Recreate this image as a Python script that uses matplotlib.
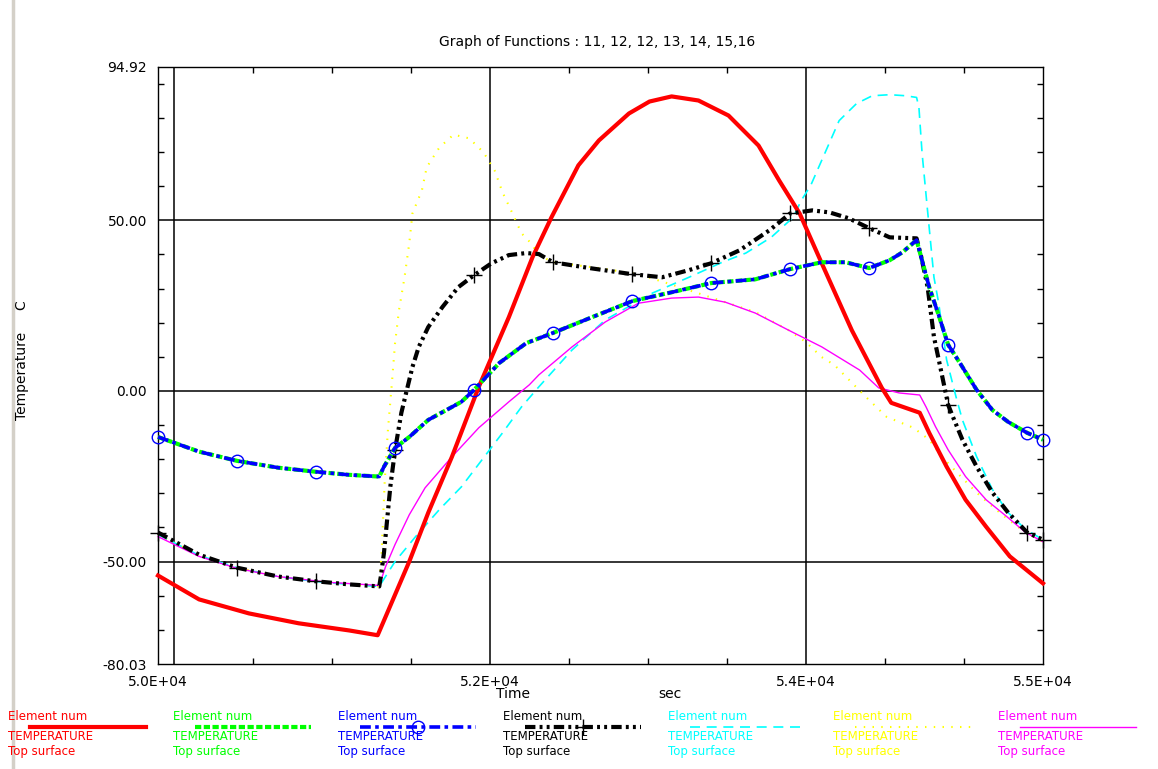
import matplotlib
matplotlib.use("Agg")
import matplotlib.pyplot as plt
from matplotlib.lines import Line2D

# values (time in sec, temperature in C)
red_t = [49900, 50160, 50475, 50790, 51110, 51290, 51490, 51610, 51760, 51930,
         52120, 52270, 52390, 52560, 52690, 52880, 53010, 53150, 53320, 53510,
         53700, 53830, 53960, 54100, 54290, 54480, 54540, 54720, 54780,
         54890, 55010, 55140, 55290, 55500]
red_T = [-54.1, -61.1, -65.2, -68.1, -70.2, -71.6, -50.0, -35.7, -19.3, 1.2,
         21.6, 39.2, 50.9, 66.1, 73.4, 81.3, 84.8, 86.3, 85.1, 80.7,
         71.9, 61.7, 52.0, 37.4, 17.8, 0.9, -3.5, -6.4, -12.3,
         -22.2, -31.9, -39.8, -48.5, -56.4]

blue_t = [49900, 50160, 50400, 50660, 50900, 51110, 51300, 51330, 51400, 51490,
          51610, 51820, 51900, 52060, 52230, 52400, 52630, 52900, 53150, 53400,
          53680, 53900, 54100, 54250, 54400, 54530, 54610, 54700, 54780, 54840,
          54900, 54970, 55080, 55180, 55280, 55400, 55500]
blue_T = [-13.5, -17.8, -20.5, -22.5, -23.7, -24.6, -25.1, -22.2, -16.7, -13.5,
          -8.5, -3.2, 0.3, 8.2, 14.0, 17.0, 21.3, 26.3, 28.9, 31.6,
          32.7, 35.7, 37.7, 37.7, 36.0, 38.3, 40.6, 44.2, 30.4, 22.2,
          13.5, 8.5, 0.3, -5.6, -9.1, -12.3, -14.3]

# the green curve sits right under the blue one
green_t = list(blue_t)
green_T = list(blue_T)

black_t = [49900, 50160, 50400, 50660, 50900, 51110, 51300, 51310, 51330, 51350,
           51370, 51400, 51440, 51470, 51510, 51550, 51610, 51700, 51800, 51900,
           52010, 52120, 52230, 52310, 52400, 52630, 52900, 53090, 53260, 53400,
           53580, 53770, 53900, 54040, 54150, 54270, 54400, 54530, 54700, 54730,
           54770, 54810, 54850, 54900, 54930, 54990, 55080, 55180, 55280, 55400,
           55500]
black_T = [-41.5, -48.0, -51.8, -54.4, -55.8, -56.7, -57.3, -54.4, -47.4, -37.7,
           -28.1, -17.3, -6.4, -0.6, 7.0, 12.9, 18.7, 24.6, 30.4, 33.9,
           37.4, 39.8, 40.4, 40.1, 37.7, 36.0, 34.2, 33.3, 35.4, 37.4,
           41.2, 47.1, 52.0, 52.9, 52.3, 50.6, 47.7, 45.0, 44.7, 39.2,
           30.4, 15.8, 7.0, -4.1, -7.6, -14.3, -22.2, -29.8, -35.7, -41.5,
           -43.6]

cyan_t = [49900, 50160, 50400, 50660, 50890, 51110, 51300, 51400, 51530, 51680,
          51820, 51950, 52080, 52200, 52310, 52520, 52730, 53030, 53260, 53470,
          53620, 53780, 53920, 53970, 54030, 54210, 54320, 54420, 54530, 54630,
          54700, 54715, 54735, 54765, 54810, 54840, 54890, 54950, 54990, 55080,
          55180, 55280, 55390, 55500]
cyan_T = [-42.1, -48.2, -51.8, -54.4, -55.8, -56.7, -57.3, -50.0, -42.7, -34.8,
          -28.1, -20.2, -12.3, -4.7, 1.2, 12.0, 20.8, 28.7, 33.3, 37.7,
          40.4, 45.0, 50.9, 55.8, 60.2, 79.2, 84.2, 86.5, 86.8, 86.5,
          86.0, 83.0, 69.6, 55.0, 33.3, 25.7, 9.1, -1.8, -8.5, -19.3,
          -28.9, -35.7, -40.6, -43.6]

yellow_t = [49900, 50160, 50400, 50660, 50890, 51110, 51300, 51315, 51335, 51355,
            51380, 51400, 51425, 51460, 51490, 51510, 51570, 51600, 51680, 51770,
            51870, 51960, 52030, 52080, 52140, 52200, 52260, 52310, 52400, 52690,
            52940, 53100, 53300, 53450, 53680, 53890, 54000, 54100, 54180, 54380,
            54510, 54680, 54780, 54860, 54970, 55080, 55180, 55280, 55390, 55500]
yellow_T = [-42.1, -48.2, -51.8, -54.4, -55.8, -56.7, -57.3, -47.4, -26.0, -11.4,
            2.3, 14.0, 23.7, 33.3, 43.3, 52.0, 58.8, 65.5, 71.3, 75.1,
            74.0, 69.9, 64.6, 58.2, 52.3, 46.2, 43.3, 39.8, 37.7, 36.0,
            34.2, 31.9, 28.9, 26.6, 23.1, 17.8, 14.3, 9.9, 7.6, -1.8,
            -7.6, -10.8, -14.3, -19.3, -24.6, -29.8, -33.9, -37.7, -41.5, -44.2]

magenta_t = [49900, 50160, 50400, 50660, 50980, 51300, 51340, 51400, 51490, 51590,
             51760, 51930, 52120, 52250, 52310, 52520, 52730, 52940, 53150, 53320,
             53490, 53680, 53890, 54100, 54340, 54460, 54590, 54720, 54760, 54820,
             54900, 55010, 55140, 55270, 55390, 55500]
magenta_T = [-42.7, -48.5, -52.0, -54.4, -56.1, -57.0, -51.5, -45.0, -36.3, -28.4,
             -19.3, -10.8, -3.2, 1.8, 4.7, 12.9, 20.2, 25.7, 27.2, 27.5,
             26.0, 22.8, 17.8, 12.9, 6.1, 0.9, -0.6, -1.2, -4.7, -10.5,
             -17.3, -25.1, -31.9, -36.8, -41.5, -44.2]

title = "Graph of Functions : 11, 12, 12, 13, 14, 15,16"
legend_rows = ["Element num", "TEMPERATURE", "Top surface"]
x_tick_vals = [49900, 52000, 54000, 55500]
x_tick_labels = ["5.0E+04", "5.2E+04", "5.4E+04", "5.5E+04"]
y_tick_vals = [94.92, 50.0, 0.0, -50.0, -80.03]
y_tick_labels = ["94.92", "50.00", "0.00", "-50.00", "-80.03"]
grid_x = [50000, 52000, 54000]
grid_y = [50, 0, -50]
x_minor = [50500, 51000, 51500, 52500, 53000, 53500, 54500, 55000]
y_minor = [-70, -60, -40, -30, -20, -10, 10, 20, 30, 40, 60, 70, 80, 90]

W, H = 1158, 769


def marker_idx(ts):
    idx = [i for i, t in enumerate(ts) if (t - 49900) % 500 == 0]
    if len(ts) - 1 not in idx:
        idx.append(len(ts) - 1)
    return idx


def main():
    fig = plt.figure(figsize=(W / 100, H / 100), dpi=100)
    fig.patch.set_facecolor("white")
    ax = fig.add_axes([158 / W, 1 - 664 / H, 885 / W, 597 / H])

    series = [
        dict(t=red_t, T=red_T, color="#ff0000", lw=3.0, ls="-"),
        dict(t=green_t, T=green_T, color="#00ff00", lw=3.0, ls=(0, (1.5, 0.6))),
        dict(t=blue_t, T=blue_T, color="#0000ff", lw=2.6, ls=(0, (3, 1.2, 1, 1.2)),
             marker="o", ms=9, mfc="none", mew=1.0),
        dict(t=black_t, T=black_T, color="black", lw=3.0, ls=(0, (2.5, 1, 0.7, 1, 0.7, 1)),
             marker="+", ms=11, mew=1.0),
        dict(t=cyan_t, T=cyan_T, color="#00ffff", lw=1.2, ls=(0, (6, 4))),
        dict(t=yellow_t, T=yellow_T, color="#ffff00", lw=1.5, ls=(0, (0.7, 3.5))),
        dict(t=magenta_t, T=magenta_T, color="#ff00ff", lw=1.0, ls="-"),
    ]
    # drawing order: thin ones first, bold ones on top like the screenshot
    order = [5, 4, 6, 0, 3, 1, 2]
    for k in order:
        s = series[k]
        kw = {}
        if "marker" in s:
            kw = dict(marker=s["marker"], markersize=s["ms"], markevery=marker_idx(s["t"]),
                      markerfacecolor=s.get("mfc", s["color"]), markeredgecolor=s["color"],
                      markeredgewidth=s["mew"])
        ax.plot(s["t"], s["T"], color=s["color"], lw=s["lw"], linestyle=s["ls"],
                clip_on=False, zorder=3 + order.index(k), **kw)

    for gx in grid_x:
        ax.axvline(gx, color="black", lw=1.1, zorder=1)
    for gy in grid_y:
        ax.axhline(gy, color="black", lw=1.1, zorder=1)

    ax.set_xlim(49900, 55500)
    ax.set_ylim(-80.03, 94.92)
    ax.set_xticks(x_tick_vals)
    ax.set_xticklabels(x_tick_labels)
    ax.set_yticks(y_tick_vals)
    ax.set_yticklabels(y_tick_labels)
    ax.set_xticks(x_minor, minor=True)
    ax.set_yticks(y_minor, minor=True)
    ax.tick_params(which="major", length=0, labelsize=10, pad=8)
    ax.tick_params(which="minor", direction="in", length=4, width=1,
                   top=True, right=True, bottom=True, left=True)
    for sp in ax.spines.values():
        sp.set_linewidth(1.0)

    fig.text(597 / W, 1 - 42 / H, title, ha="center", va="center", fontsize=10)
    fig.text(22 / W, 1 - 360 / H, "Temperature     C", rotation=90,
             ha="center", va="center", fontsize=10)
    fig.text(513 / W, 1 - 694 / H, "Time", ha="center", va="center", fontsize=10)
    fig.text(670 / W, 1 - 694 / H, "sec", ha="center", va="center", fontsize=10)

    # legend: seven columns of three rows, line sample under the first row
    row_y = [716, 737, 752]
    for i, s in enumerate(series):
        x0 = 8 + 165 * i
        for r, txt in enumerate(legend_rows):
            fig.text(x0 / W, 1 - row_y[r] / H, txt, color=s["color"],
                     ha="left", va="center", fontsize=8.5)
        kw = {}
        if "marker" in s:
            kw = dict(marker=s["marker"], markersize=s["ms"], markevery=[1],
                      markerfacecolor=s.get("mfc", s["color"]), markeredgecolor=s["color"],
                      markeredgewidth=s["mew"])
        xs = [(x0 + 22) / W, (x0 + 80) / W, (x0 + 138) / W]
        ys = [1 - 727 / H] * 3
        fig.add_artist(Line2D(xs, ys, color=s["color"], lw=s["lw"], linestyle=s["ls"],
                              transform=fig.transFigure, **kw))

    # grey window border on the far left of the screenshot
    fig.add_artist(Line2D([13 / W, 13 / W], [0, 1], color="#d4d0c8", lw=2.5,
                          transform=fig.transFigure))

    fig.savefig("out.png", dpi=100)


if __name__ == "__main__":
    main()
